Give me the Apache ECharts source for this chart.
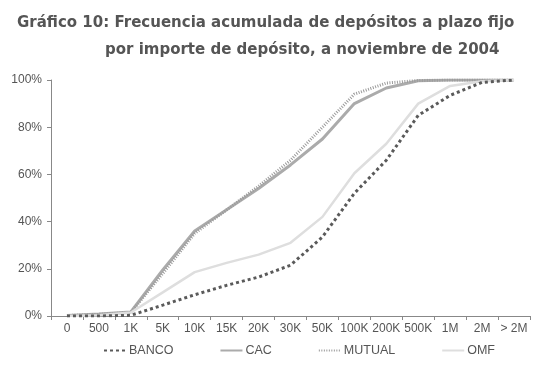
<!DOCTYPE html>
<html>
<head>
<meta charset="utf-8">
<script src="https://cdn.jsdelivr.net/npm/echarts@6/dist/echarts.min.js"></script>
<style>
  html, body { margin: 0; padding: 0; background: #fff; }
  #chart { width: 547px; height: 369px; }
</style>
</head>
<body>
<div id="chart"></div>
<script>
const titleLine1 = "Gráfico 10: Frecuencia acumulada de depósitos a plazo fijo";
const titleLine2 = "por importe de depósito, a noviembre de 2004";

const importes = ["0", "500", "1K", "5K", "10K", "15K", "20K", "30K", "50K", "100K", "200K", "500K", "1M", "2M", "> 2M"];

const banco = [0, 0, 0.3, 4.6, 9, 13, 16.5, 21.5, 33.5, 52, 66, 85, 93.5, 99, 100];
const cac = [0.2, 0.8, 1.7, 19.5, 36, 45, 54, 64, 75, 90, 96.6, 99.7, 100, 100, 100];
const mutual = [0.2, 0.7, 1.5, 18, 35, 45, 55, 66, 80, 94, 98.7, 99.8, 100, 100, 100];
const omf = [0, 0.3, 1.5, 10, 18.6, 22.5, 26, 31, 42, 60.5, 73, 90, 97.5, 99.5, 100];

const textColor = "#555";
const axisColor = "#888";
const titleFont = { color: textColor, fontFamily: "DejaVu Sans", fontWeight: "bold", fontSize: 15 };

function lineSeries(name, data, color, width, type) {
  return {
    name,
    type: "line",
    data,
    symbol: "none",
    lineStyle: { color, width, type },
    itemStyle: { color },
    z: name === "BANCO" ? 5 : 3
  };
}

const chart = echarts.init(document.getElementById("chart"));

chart.setOption({
  backgroundColor: "#fff",
  animation: false,
  title: [
    { text: titleLine1, left: 12, top: 11, textStyle: titleFont },
    { text: titleLine2, left: 100, top: 38, textStyle: titleFont }
  ],
  legend: {
    bottom: 7,
    left: 98,
    itemWidth: 22,
    itemHeight: 8,
    itemGap: 46,
    itemStyle: { opacity: 0 },
    textStyle: { color: textColor, fontFamily: "Liberation Sans", fontSize: 12.5, padding: [0, 0, 0, -2] },
    data: ["BANCO", "CAC", "MUTUAL", "OMF"]
  },
  grid: {
    left: 51,
    right: 17,
    top: 80,
    bottom: 53
  },
  xAxis: {
    type: "category",
    data: importes,
    boundaryGap: true,
    axisLine: { lineStyle: { color: axisColor } },
    axisTick: { show: true, length: 4, lineStyle: { color: axisColor } },
    axisLabel: { color: textColor, fontFamily: "Liberation Sans", fontSize: 12, margin: 7, interval: 0 }
  },
  yAxis: {
    type: "value",
    min: 0,
    max: 100,
    interval: 20,
    axisLine: { show: true, lineStyle: { color: axisColor } },
    axisTick: { show: true, length: 4, lineStyle: { color: axisColor } },
    splitLine: { show: false },
    axisLabel: { color: textColor, fontFamily: "Liberation Sans", fontSize: 12, margin: 9, formatter: "{value}%" }
  },
  series: [
    lineSeries("BANCO", banco, "#5a5a5a", 3, [3, 3]),
    lineSeries("CAC", cac, "#ababab", 3, "solid"),
    lineSeries("MUTUAL", mutual, "#9a9a9a", 3, [1, 1.5]),
    lineSeries("OMF", omf, "#dedede", 2.5, "solid")
  ]
});
</script>
</body>
</html>
